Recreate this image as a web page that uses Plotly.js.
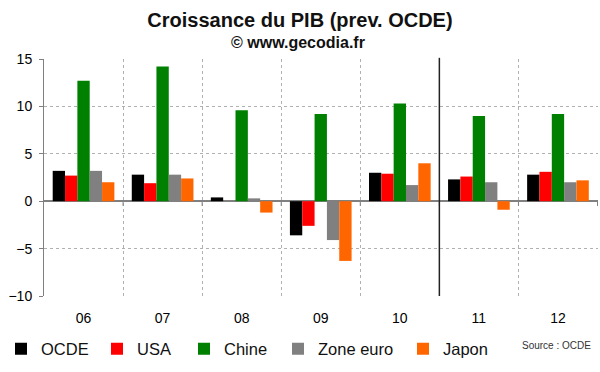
<!DOCTYPE html>
<html>
<head>
<meta charset="utf-8">
<script src="https://cdn.plot.ly/plotly-3.0.1.min.js"></script>
<style>html,body{margin:0;padding:0;background:#fff;}#chart{width:600px;height:372px;}</style>
</head>
<body>
<div id="chart"></div>
<script>
const years = ["06", "07", "08", "09", "10", "11", "12"];
const seriesNames = ["OCDE", "USA", "Chine", "Zone euro", "Japon"];
const ocde = [3.2, 2.8, 0.4, -3.6, 3.0, 2.3, 2.8];
const usa = [2.7, 1.9, 0.0, -2.6, 2.9, 2.6, 3.1];
const chine = [12.7, 14.2, 9.6, 9.2, 10.3, 9.0, 9.2];
const zoneEuro = [3.2, 2.8, 0.3, -4.1, 1.7, 2.0, 2.0];
const japon = [2.0, 2.4, -1.2, -6.3, 4.0, -0.9, 2.2];
const yTicks = [-10, -5, 0, 5, 10, 15];

const values = [ocde, usa, chine, zoneEuro, japon];
const colors = ["#000000", "#ff0000", "#008000", "#808080", "#ff6600"];
const legendIds = ["legend", "legend2", "legend3", "legend4", "legend5"];
const legendX = [1, 97, 184, 278, 403];

const W = 600, H = 372;
const traces = values.map((v, i) => ({
  type: "bar",
  name: seriesNames[i],
  x: years,
  y: v,
  marker: {color: colors[i], line: {width: 0}},
  legend: legendIds[i],
  showlegend: true,
  hoverinfo: "skip"
}));

const shapes = [];
for (let i = 0; i < years.length; i++) {
  shapes.push({type: "line", xref: "x", yref: "y", x0: i + 0.5, x1: i + 0.5, y0: 0, y1: -0.5,
    line: {color: "#808080", width: 1}});
}
shapes.push({type: "line", xref: "x", yref: "paper", x0: 4.5, x1: 4.5, y0: 0, y1: 1.005,
  line: {color: "#222222", width: 1.5}});

const layout = {
  width: W, height: H,
  showlegend: true,
  margin: {l: 44, r: 2, t: 59, b: 76},
  paper_bgcolor: "#ffffff", plot_bgcolor: "#ffffff",
  font: {family: "Liberation Sans, Arial, sans-serif", color: "#000", size: 14},
  title: {text: "<b>Croissance du PIB (prev. OCDE)</b>", font: {size: 20, color: "#111"},
    x: 0.5, xanchor: "center", xref: "container", y: 1 - 20 / H, yanchor: "middle", yref: "container"},
  barmode: "group", bargap: 0.22, bargroupgap: 0,
  xaxis: {type: "category", tickson: "boundaries", showgrid: true, gridcolor: "#b0b0b0",
    griddash: "dot", gridwidth: 1, ticks: "", showline: false, zeroline: false,
    ticklabelstandoff: 12, tickfont: {size: 14}, fixedrange: true},
  yaxis: {range: [-10, 15], tickvals: yTicks, showgrid: true, gridcolor: "#b0b0b0",
    griddash: "dot", gridwidth: 1, zeroline: true, zerolinecolor: "#808080", zerolinewidth: 1.5,
    showline: true, linecolor: "#808080", linewidth: 1, ticks: "outside", ticklen: 4,
    tickcolor: "#808080", ticklabelstandoff: 4, tickfont: {size: 14}, fixedrange: true},
  shapes: shapes,
  annotations: [
    {text: "<b>© www.gecodia.fr</b>", xref: "paper", yref: "paper", x: (298 - 44) / 553,
      y: (296 - 42) / 237, xanchor: "center", yanchor: "middle", showarrow: false,
      font: {size: 16, color: "#111"}},
    {text: "Source : OCDE", xref: "paper", yref: "paper", x: (556 - 44) / 553,
      y: (296 - 345) / 237, xanchor: "center", yanchor: "middle", showarrow: false,
      font: {size: 10, color: "#333"}}
  ]
};
legendIds.forEach((id, i) => {
  layout[id] = {orientation: "h", x: legendX[i] / W, xref: "container", xanchor: "left",
    y: (H - 349) / H, yref: "container", yanchor: "middle", visible: true,
    font: {size: 16.5, color: "#111"}, bgcolor: "rgba(0,0,0,0)", borderwidth: 0,
    itemwidth: 30, itemclick: false, itemdoubleclick: false};
});

Plotly.newPlot("chart", traces, layout, {displayModeBar: false, staticPlot: true});
</script>
</body>
</html>
